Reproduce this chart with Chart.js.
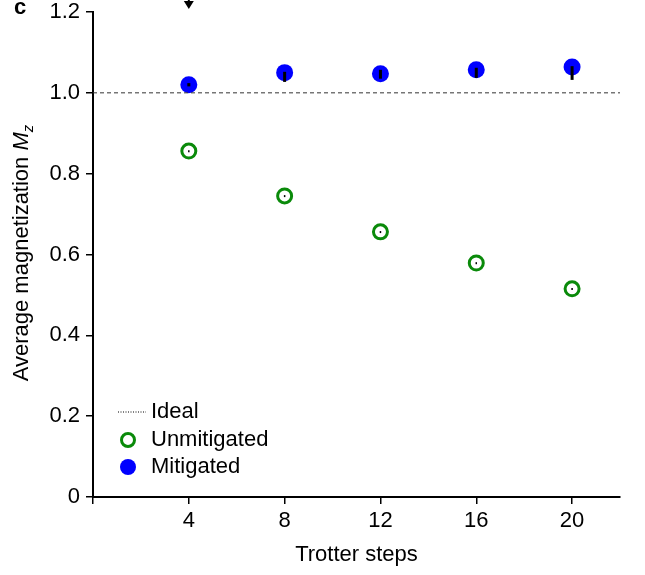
<!DOCTYPE html>
<html lang="en">
<head>
    <meta charset="UTF-8">
    <title>Average magnetization vs Trotter steps</title>
    <style>
        body {
            margin: 0;
            background-color: #ffffff;
        }

        #wrap {
            width: 645px;
            height: 575px;
        }
    </style>
    <script src="https://cdn.jsdelivr.net/npm/chart.js"></script>
</head>
<body>
    <div id="wrap"><canvas id="magChart" width="645" height="575"></canvas></div>
    <script>
        // Data
        const trotterSteps = [4, 8, 12, 16, 20];
        const unmitigated = [0.856, 0.745, 0.656, 0.579, 0.515];
        const unmitigatedLow = [0.853, 0.742, 0.653, 0.576, 0.512];
        const unmitigatedHigh = [0.858, 0.747, 0.658, 0.581, 0.517];
        const mitigated = [1.020, 1.050, 1.047, 1.057, 1.064];
        const mitigatedLow = [1.016, 1.027, 1.035, 1.037, 1.032];
        const mitigatedHigh = [1.024, 1.052, 1.057, 1.062, 1.066];
        const idealX = [0, 22];
        const idealY = [1.0, 1.0];
        const xTicks = [0, 4, 8, 12, 16, 20];
        const yTicks = [0, 0.2, 0.4, 0.6, 0.8, 1.0, 1.2];
        const arrowAt = [4];

        const FONT = "'Liberation Sans', Arial, sans-serif";
        const FS = 22;
        const GREEN = '#0a8a0a';
        const BLUE = '#0000ff';

        function pts(xs, ys) {
            return xs.map((x, i) => ({ x: x, y: ys[i] }));
        }

        // error bars, panel letter, arrow, y title and legend
        const extras = {
            id: 'extras',
            afterDatasetsDraw(chart) {
                const ctx = chart.ctx;
                const xs = chart.scales.x;
                const ys = chart.scales.y;

                ctx.save();
                ctx.strokeStyle = '#000';
                ctx.lineCap = 'butt';
                ctx.lineWidth = 1.5;
                trotterSteps.forEach((t, i) => {
                    const px = xs.getPixelForValue(t);
                    ctx.beginPath();
                    ctx.moveTo(px, ys.getPixelForValue(unmitigatedLow[i]));
                    ctx.lineTo(px, ys.getPixelForValue(unmitigatedHigh[i]));
                    ctx.stroke();
                });
                ctx.lineWidth = 3;
                trotterSteps.forEach((t, i) => {
                    const px = xs.getPixelForValue(t);
                    ctx.beginPath();
                    ctx.moveTo(px, ys.getPixelForValue(mitigatedLow[i]));
                    ctx.lineTo(px, ys.getPixelForValue(mitigatedHigh[i]));
                    ctx.stroke();
                });

                // arrow above the plot
                const ax = xs.getPixelForValue(arrowAt[0]);
                ctx.fillStyle = '#000';
                ctx.lineWidth = 2;
                ctx.beginPath();
                ctx.moveTo(ax, 0);
                ctx.lineTo(ax, 3);
                ctx.stroke();
                ctx.beginPath();
                ctx.moveTo(ax - 5, 1);
                ctx.lineTo(ax + 5, 1);
                ctx.lineTo(ax, 9);
                ctx.closePath();
                ctx.fill();

                // panel letter
                ctx.font = 'bold 22px ' + FONT;
                ctx.textBaseline = 'middle';
                ctx.textAlign = 'left';
                ctx.fillText('c', 14, 8);

                // y axis title with italic M and subscript z
                ctx.translate(22, 253);
                ctx.rotate(-Math.PI / 2);
                const part1 = 'Average magnetization ';
                ctx.font = FS + 'px ' + FONT;
                const w1 = ctx.measureText(part1).width;
                ctx.font = 'italic ' + FS + 'px ' + FONT;
                const w2 = ctx.measureText('M').width;
                ctx.font = 'italic 15px ' + FONT;
                const w3 = ctx.measureText('z').width;
                const x0 = -(w1 + w2 + w3) / 2;
                ctx.textAlign = 'left';
                ctx.font = FS + 'px ' + FONT;
                ctx.fillText(part1, x0, 0);
                ctx.font = 'italic ' + FS + 'px ' + FONT;
                ctx.fillText('M', x0 + w1, 0);
                ctx.font = 'italic 15px ' + FONT;
                ctx.fillText('z', x0 + w1 + w2, 7);
                ctx.restore();

                // legend
                ctx.save();
                ctx.font = FS + 'px ' + FONT;
                ctx.fillStyle = '#000';
                ctx.textBaseline = 'middle';
                ctx.textAlign = 'left';
                ctx.strokeStyle = '#000';
                ctx.lineWidth = 1;
                ctx.setLineDash([1, 1.5]);
                ctx.beginPath();
                ctx.moveTo(118, 412);
                ctx.lineTo(146, 412);
                ctx.stroke();
                ctx.setLineDash([]);
                ctx.fillText('Ideal', 151, 412);

                ctx.strokeStyle = GREEN;
                ctx.lineWidth = 3;
                ctx.beginPath();
                ctx.arc(128, 440, 6.5, 0, Math.PI * 2);
                ctx.stroke();
                ctx.fillText('Unmitigated', 151, 440);

                ctx.fillStyle = BLUE;
                ctx.beginPath();
                ctx.arc(128, 467, 8, 0, Math.PI * 2);
                ctx.fill();
                ctx.fillStyle = '#000';
                ctx.fillText('Mitigated', 151, 467);
                ctx.restore();
            }
        };

        const ctx = document.getElementById('magChart').getContext('2d');
        new Chart(ctx, {
            type: 'scatter',
            data: {
                datasets: [
                    {
                        label: 'Ideal',
                        type: 'line',
                        data: pts(idealX, idealY),
                        borderColor: '#333',
                        borderWidth: 1,
                        borderDash: [4, 3],
                        pointRadius: 0,
                        fill: false
                    },
                    {
                        label: 'Unmitigated',
                        data: pts(trotterSteps, unmitigated),
                        pointRadius: 7,
                        pointBorderWidth: 3,
                        pointBorderColor: GREEN,
                        pointBackgroundColor: '#fff'
                    },
                    {
                        label: 'Mitigated',
                        data: pts(trotterSteps, mitigated),
                        pointRadius: 8.5,
                        pointBorderWidth: 0,
                        pointBackgroundColor: BLUE
                    }
                ]
            },
            options: {
                responsive: false,
                animation: false,
                layout: {
                    padding: { left: 0, top: 12, right: 25, bottom: 0 }
                },
                plugins: {
                    legend: { display: false },
                    tooltip: { enabled: false }
                },
                scales: {
                    x: {
                        type: 'linear',
                        min: 0,
                        max: 22,
                        afterFit: (scale) => { scale.height = 78; },
                        afterBuildTicks: (scale) => { scale.ticks = xTicks.map(v => ({ value: v })); },
                        border: { display: true, color: '#000', width: 2 },
                        grid: { drawOnChartArea: false, drawTicks: true, tickLength: 7, color: '#000', lineWidth: 1.5 },
                        ticks: {
                            color: '#000',
                            padding: 4,
                            font: { family: FONT, size: FS },
                            callback: (v) => v === 0 ? '' : String(v)
                        },
                        title: {
                            display: true,
                            text: 'Trotter steps',
                            color: '#000',
                            font: { family: FONT, size: FS },
                            padding: { top: 4, bottom: 7 }
                        }
                    },
                    y: {
                        min: 0,
                        max: 1.2,
                        afterFit: (scale) => {
                            scale.width = 93;
                            scale.paddingTop = 0;
                            scale.paddingBottom = 0;
                        },
                        afterBuildTicks: (scale) => { scale.ticks = yTicks.map(v => ({ value: v })); },
                        border: { display: true, color: '#000', width: 2 },
                        grid: { drawOnChartArea: false, drawTicks: true, tickLength: 7, color: '#000', lineWidth: 1.5 },
                        ticks: {
                            color: '#000',
                            padding: 6,
                            font: { family: FONT, size: FS },
                            callback: (v) => v === 0 ? '0' : v.toFixed(1)
                        }
                    }
                }
            },
            plugins: [extras]
        });
    </script>
</body>
</html>
